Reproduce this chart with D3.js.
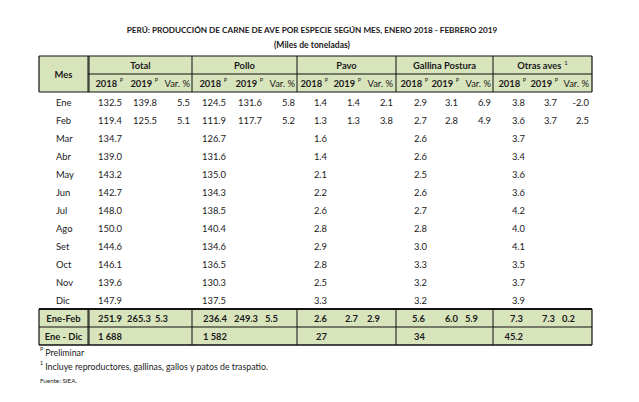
<!DOCTYPE html>
<html>
<head>
<meta charset="utf-8">
<script src="https://cdn.jsdelivr.net/npm/d3@7"></script>
<style>
  html, body { margin: 0; padding: 0; background: #fff; }
  svg { display: block; }
  text { font-family: Lato, "Open Sans", sans-serif; fill: #1a1a1a; }
</style>
</head>
<body>
<svg id="chart" width="639" height="402"></svg>
<script>
// ---------------- data ----------------
const title = "PERÚ: PRODUCCIÓN DE CARNE DE AVE  POR ESPECIE SEGÚN MES, ENERO 2018 - FEBRERO 2019";
const subtitle = "(Miles de toneladas)";
const months = ["Ene","Feb","Mar","Abr","May","Jun","Jul","Ago","Set","Oct","Nov","Dic"];
const groups = ["Total","Pollo","Pavo","Gallina Postura","Otras aves"];
const subHeaders = ["2018","2019","Var. %"];

const total2018   = [132.5,119.4,134.7,139.0,143.2,142.7,148.0,150.0,144.6,146.1,139.6,147.9];
const total2019   = [139.8,125.5];
const totalVar    = [5.5,5.1];
const pollo2018   = [124.5,111.9,126.7,131.6,135.0,134.3,138.5,140.4,134.6,136.5,130.3,137.5];
const pollo2019   = [131.6,117.7];
const polloVar    = [5.8,5.2];
const pavo2018    = [1.4,1.3,1.6,1.4,2.1,2.2,2.6,2.8,2.9,2.8,2.5,3.3];
const pavo2019    = [1.4,1.3];
const pavoVar     = [2.1,3.8];
const gallina2018 = [2.9,2.7,2.6,2.6,2.5,2.6,2.7,2.8,3.0,3.3,3.2,3.2];
const gallina2019 = [3.1,2.8];
const gallinaVar  = [6.9,4.9];
const otras2018   = [3.8,3.6,3.7,3.4,3.6,3.6,4.2,4.0,4.1,3.5,3.7,3.9];
const otras2019   = [3.7,3.7];
const otrasVar    = [-2.0,2.5];

const summaryLabels = ["Ene-Feb","Ene - Dic"];
const eneFeb2018 = [251.9,236.4,2.6,5.6,7.3];
const eneFeb2019 = [265.3,249.3,2.7,6.0,7.3];
const eneFebVar  = [5.3,5.5,2.9,5.9,0.2];
const eneDic2018 = [1688,1582,27,34,45.2];

const footnotes = ["Preliminar","Incluye reproductores, gallinas, gallos y patos de traspatio.","Fuente: SIEA."];

// ---------------- layout ----------------
const svg = d3.select("#chart");
const L = 39, R = 592;
const groupBorders = [89,192,297,396,493,592];
const mesRight = 88;
const hTop = 56, hMid = 74, hBot = 92;
const sumTop = 309, sumMid = 327, sumBot = 345;
const green = "#d8e4bc";
const fs = 9.4;

const seriesByGroup = [
  [total2018,total2019,totalVar],
  [pollo2018,pollo2019,polloVar],
  [pavo2018,pavo2019,pavoVar],
  [gallina2018,gallina2019,gallinaVar],
  [otras2018,otras2019,otrasVar]
];

// rows
const y = d3.scaleBand().domain(months).range([hBot + 1, sumTop]);
const ySum = d3.scaleBand().domain(summaryLabels).range([sumTop, sumBot]);

// column right edges (monthly rows / summary rows)
const colKeys = [];
groups.forEach((g,gi)=>subHeaders.forEach((s,si)=>colKeys.push(gi+"-"+si)));
const xCol = d3.scaleOrdinal().domain(colKeys)
  .range([122,157,190, 226,262,295, 327,360,393, 427,458,491, 525,557,589]);
const xColSum = d3.scaleOrdinal().domain(colKeys)
  .range([122,151,168, 227,258,278, 327,358,380, 425,458,478, 523,555,575]);
const xGroup = d3.scaleOrdinal().domain(groups)
  .range(groups.map((g,i)=>(groupBorders[i]+groupBorders[i+1])/2));

const loc = d3.formatLocale({decimal:".", thousands:" ", grouping:[3], currency:["",""], minus:"-"});
const f1 = loc.format(".1f");
const fInt = loc.format(",d");
const fmtDic = v => Number.isInteger(v) ? fInt(v) : f1(v);

// ---------------- title ----------------
svg.append("text").attr("x",312).attr("y",30).attr("text-anchor","middle")
  .attr("dominant-baseline","central").attr("font-weight","bold").attr("font-size",8.2)
  .text(title);
svg.append("text").attr("x",312).attr("y",45).attr("text-anchor","middle")
  .attr("dominant-baseline","central").attr("font-weight","bold").attr("font-size",8.6)
  .text(subtitle);

// ---------------- header ----------------
svg.append("rect").attr("x",L).attr("y",hTop).attr("width",R-L).attr("height",hBot-hTop).attr("fill",green);
svg.append("rect").attr("x",L).attr("y",sumTop).attr("width",R-L).attr("height",sumBot-sumTop).attr("fill",green);

svg.append("text").attr("x",(L+mesRight)/2).attr("y",(hTop+hBot)/2).attr("text-anchor","middle")
  .attr("dominant-baseline","central").attr("font-weight","bold").attr("font-size",fs).text("Mes");

const gt = svg.append("g").selectAll("text").data(groups).join("text")
  .attr("x",d=>xGroup(d)).attr("y",(hTop+hMid)/2).attr("text-anchor","middle")
  .attr("dominant-baseline","central").attr("font-weight","bold").attr("font-size",fs)
  .text(d=>d);
gt.filter(d=>d==="Otras aves").append("tspan").attr("dx",3).attr("dy",-3.5)
  .attr("font-size",6).attr("font-weight","normal").text("1");

const subData = [];
groups.forEach((g,gi)=>subHeaders.forEach((s,si)=>subData.push({gi,si,s})));
const st = svg.append("g").selectAll("text").data(subData).join("text")
  .attr("x",d=>xCol(d.gi+"-"+d.si)+ (d.si<2?1:0)).attr("y",(hMid+hBot)/2)
  .attr("text-anchor","end").attr("dominant-baseline","central").attr("font-size",fs)
  .attr("font-weight",d=>d.si<2?"bold":"normal");
st.each(function(d){
  const t = d3.select(this);
  if (d.si<2){
    t.append("tspan").text(d.s);
    t.append("tspan").attr("dx",2.5).attr("dy",-3.5).attr("font-size",5.5).attr("font-weight","normal").text("P");
  } else t.text(d.s);
});

// ---------------- monthly rows ----------------
svg.append("g").selectAll("text").data(months).join("text")
  .attr("x",56).attr("y",d=>y(d)+y.bandwidth()/2).attr("dominant-baseline","central")
  .attr("font-size",fs).text(d=>d);

const cells = [];
seriesByGroup.forEach((ser,gi)=>ser.forEach((arr,si)=>arr.forEach((v,mi)=>cells.push({gi,si,v,m:months[mi]}))));
svg.append("g").selectAll("text").data(cells).join("text")
  .attr("x",d=>xCol(d.gi+"-"+d.si)).attr("y",d=>y(d.m)+y.bandwidth()/2)
  .attr("text-anchor","end").attr("dominant-baseline","central").attr("font-size",fs)
  .text(d=>f1(d.v));

// ---------------- summary rows ----------------
svg.append("g").selectAll("text").data(summaryLabels).join("text")
  .attr("x",(L+mesRight)/2).attr("y",d=>ySum(d)+ySum.bandwidth()/2).attr("text-anchor","middle")
  .attr("dominant-baseline","central").attr("font-weight","bold").attr("font-size",fs).text(d=>d);

const sumCells = [];
[eneFeb2018,eneFeb2019,eneFebVar].forEach((arr,si)=>arr.forEach((v,gi)=>sumCells.push({gi,si,v,r:summaryLabels[0],t:f1(v)})));
eneDic2018.forEach((v,gi)=>sumCells.push({gi,si:0,v,r:summaryLabels[1],t:fmtDic(v)}));
svg.append("g").selectAll("text").data(sumCells).join("text")
  .attr("x",d=>xColSum(d.gi+"-"+d.si)).attr("y",d=>ySum(d.r)+ySum.bandwidth()/2)
  .attr("text-anchor","end").attr("dominant-baseline","central").attr("font-weight","bold")
  .attr("font-size",fs).text(d=>d.t);

// ---------------- lines ----------------
const lines = svg.append("g").attr("stroke","#111").attr("fill","none");
function ln(x1,y1,x2,y2,w){ lines.append("line").attr("x1",x1).attr("y1",y1).attr("x2",x2).attr("y2",y2).attr("stroke-width",w); }
// header
ln(L,hTop,R,hTop,1.2);
ln(mesRight,hMid,R,hMid,1);
ln(L,hBot,R,hBot,1.2);
ln(L,hTop,L,hBot,1.2);
ln(R,hTop,R,hBot,1.2);
ln(mesRight,hTop,mesRight,hBot,1);
groupBorders.slice(0,-1).forEach(x=>ln(x,hTop,x,hBot,1));
// summary
ln(L,sumTop,R,sumTop,2);
ln(L,sumMid,R,sumMid,1);
ln(L,sumBot,R,sumBot,1.5);
ln(L,sumTop,L,sumBot,1.2);
ln(R,sumTop,R,sumBot,1.2);
ln(mesRight,sumTop,mesRight,sumBot,1);
groupBorders.slice(0,-1).forEach(x=>ln(x,sumTop,x,sumBot,1));

// ---------------- footnotes ----------------
const fn1 = svg.append("text").attr("x",40).attr("y",352).attr("dominant-baseline","central").attr("font-size",8.8);
fn1.append("tspan").attr("font-size",5.5).attr("dy",-3).text("P");
fn1.append("tspan").attr("dx",2).attr("dy",3).text(footnotes[0]);
const fn2 = svg.append("text").attr("x",40).attr("y",366).attr("dominant-baseline","central").attr("font-size",8.8);
fn2.append("tspan").attr("font-size",5.5).attr("dy",-3).text("1");
fn2.append("tspan").attr("dx",2).attr("dy",3).text(footnotes[1]);
svg.append("text").attr("x",40).attr("y",380).attr("dominant-baseline","central").attr("font-size",6.3).text(footnotes[2]);
</script>
</body>
</html>
